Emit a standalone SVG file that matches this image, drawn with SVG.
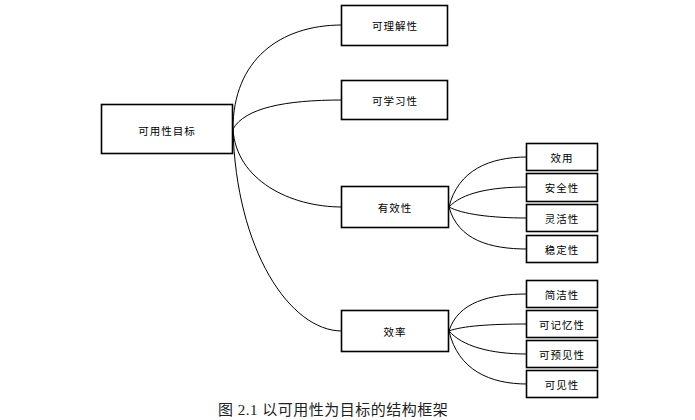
<svg xmlns="http://www.w3.org/2000/svg" width="695" height="420" viewBox="0 0 695 420">
<style>
.box{fill:#fff;stroke:#000;stroke-width:1.6}
.t{font-family:"Noto Sans CJK SC","Noto Sans",sans-serif;font-size:10.5px;letter-spacing:1px;text-anchor:middle;dominant-baseline:central;fill:#000}
.c{fill:none;stroke:#000;stroke-width:1}
.cap{font-family:"Liberation Serif","Noto Sans CJK SC",serif;font-size:15px;letter-spacing:0.5px;fill:#222}
</style>
<rect width="695" height="420" fill="#fff"/>
<g id="connectors">
<path class="c" d="M233,129 C233,60 280,25 342,25"/>
<path class="c" d="M233,129 C245,108 285,100 342,100"/>
<path class="c" d="M233,129 C236,180 290,207 342,207"/>
<path class="c" d="M233,129 C236,250 290,331 342,331"/>
<path class="c" d="M449,207 C458,170 490,157 527,157"/>
<path class="c" d="M449,207 C462,193 490,187 527,187"/>
<path class="c" d="M449,207 C462,214 490,218 527,218"/>
<path class="c" d="M449,207 C458,240 490,249 527,249"/>
<path class="c" d="M449,331 C458,302 490,294 527,294"/>
<path class="c" d="M449,331 C462,326 490,324 527,324"/>
<path class="c" d="M449,331 C462,346 490,354 527,354"/>
<path class="c" d="M449,331 C458,370 490,384 527,384"/>
</g>
<g id="root"><rect class="box" x="101.5" y="104.5" width="131" height="49"/><text class="t" x="167" y="130">可用性目标</text></g>
<g id="n1"><rect class="box" x="341.5" y="5.5" width="106" height="40"/><text class="t" x="395" y="25">可理解性</text></g>
<g id="n2"><rect class="box" x="341.5" y="80.5" width="106" height="39"/><text class="t" x="395" y="100">可学习性</text></g>
<g id="n3"><rect class="box" x="341.5" y="186.5" width="107" height="41"/><text class="t" x="395" y="207">有效性</text></g>
<g id="n4"><rect class="box" x="341.5" y="310.5" width="107" height="41"/><text class="t" x="395" y="331">效率</text></g>
<g id="n5"><rect class="box" x="526.5" y="143.5" width="71" height="27"/><text class="t" x="562" y="157">效用</text></g>
<g id="n6"><rect class="box" x="526.5" y="173.5" width="71" height="28"/><text class="t" x="562" y="187">安全性</text></g>
<g id="n7"><rect class="box" x="526.5" y="204.5" width="71" height="27"/><text class="t" x="562" y="218">灵活性</text></g>
<g id="n8"><rect class="box" x="526.5" y="235.5" width="71" height="27"/><text class="t" x="562" y="249">稳定性</text></g>
<g id="n9"><rect class="box" x="526.5" y="280.5" width="71" height="27"/><text class="t" x="562" y="294">简洁性</text></g>
<g id="n10"><rect class="box" x="526.5" y="310.5" width="71" height="27"/><text class="t" x="562" y="324">可记忆性</text></g>
<g id="n11"><rect class="box" x="526.5" y="340.5" width="71" height="27"/><text class="t" x="562" y="354">可预见性</text></g>
<g id="n12"><rect class="box" x="526.5" y="370.5" width="71" height="27"/><text class="t" x="562" y="384">可见性</text></g>
<text class="cap" x="218" y="415">图 2.1 以可用性为目标的结构框架</text>
</svg>
